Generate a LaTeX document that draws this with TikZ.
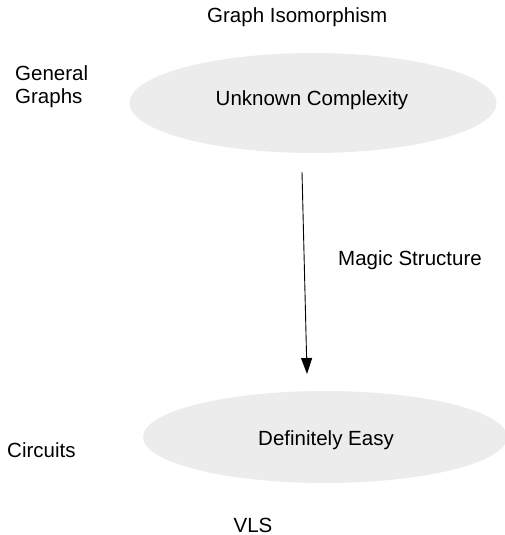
\documentclass[tikz,border=0pt]{standalone}
\usepackage{fontspec}
\setmainfont{Liberation Sans}
\usetikzlibrary{shapes.geometric,arrows.meta}
\definecolor{ellfill}{RGB}{236,236,236}
\tikzset{
  lbl/.style={font=\fontsize{20.5}{23}\selectfont, inner sep=0pt},
  ell/.style={ellipse, fill=ellfill, draw=none, inner sep=0pt},
  conn/.style={-{Triangle[width=11pt,length=16pt]}, line width=0.9pt}
}
\begin{document}
\begin{tikzpicture}[x=1pt,y=1pt]
\useasboundingbox (0,0) rectangle (505,535);
\node[ell, minimum width=367pt, minimum height=100pt] (top) at (313,432) {};
\node[ell, minimum width=364pt, minimum height=92pt] (bot) at (325,98) {};
\node[lbl, anchor=west] (gi) at (207,518) {Graph Isomorphism};
\node[lbl, align=left, anchor=west] (gg) at (15,448) {General\\Graphs};
\node[lbl] (uc) at (312,435) {Unknown Complexity};
\node[lbl, anchor=west] (ms) at (338,275) {Magic Structure};
\node[lbl, anchor=west] (ci) at (7,85) {Circuits};
\node[lbl] (de) at (326,95) {Definitely Easy};
\node[lbl] (vls) at (253,10) {VLS};
\coordinate (a1) at (302,363);
\coordinate (a2) at (307,161);
\draw[conn] (a1) -- (a2);
\end{tikzpicture}
\end{document}
